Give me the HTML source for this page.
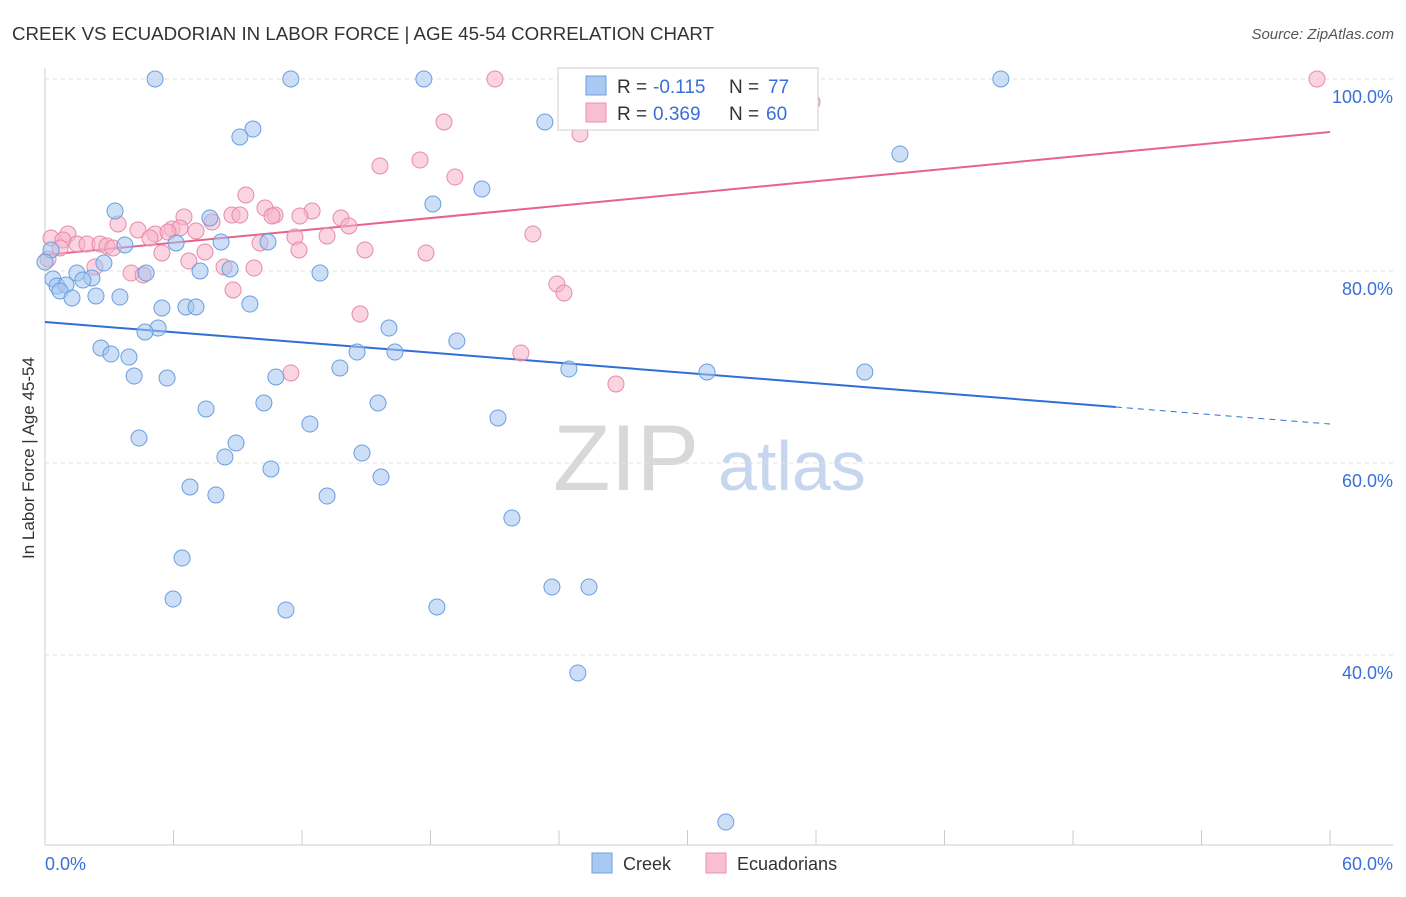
<!DOCTYPE html>
<html><head><meta charset="utf-8"><style>
body{margin:0;background:#fff;font-family:"Liberation Sans",sans-serif}
svg text{font-family:"Liberation Sans",sans-serif}
</style></head><body>
<svg id="chart" width="1406" height="892" xmlns="http://www.w3.org/2000/svg">
<text x="12" y="40" font-size="18.7" fill="#333">CREEK VS ECUADORIAN IN LABOR FORCE | AGE 45-54 CORRELATION CHART</text>
<text x="1394" y="39" font-size="15" fill="#555" text-anchor="end" font-style="italic">Source: ZipAtlas.com</text>
<text x="34" y="458" font-size="17" fill="#333" text-anchor="middle" transform="rotate(-90 34 458)">In Labor Force | Age 45-54</text>
<g><text x="553" y="490" font-size="94" fill="#d8d8d8" font-family="Liberation Serif">ZIP</text><text x="718" y="490" font-size="70" fill="#c6d6ee">atlas</text></g>
<g id="grid"></g><g id="axes"></g><g id="trend"></g><g id="pts"></g>
<g>
<rect x="558" y="68" width="260" height="62" fill="#fff" stroke="#ccc"/>
<rect x="586" y="76" width="20" height="19" fill="#a9c8f2" stroke="#6e9fdf"/>
<rect x="586" y="103" width="20" height="19" fill="#f7bfd0" stroke="#ea90ad"/>
<text x="617" y="93" font-size="19" fill="#333">R =</text><text x="653" y="93" font-size="19" fill="#3a6fd8">-0.115</text>
<text x="729" y="93" font-size="19" fill="#333">N =</text><text x="768" y="93" font-size="19" fill="#3a6fd8">77</text>
<text x="617" y="120" font-size="19" fill="#333">R =</text><text x="653" y="120" font-size="19" fill="#3a6fd8">0.369</text>
<text x="729" y="120" font-size="19" fill="#333">N =</text><text x="766" y="120" font-size="19" fill="#3a6fd8">60</text>
</g>
<g>
<rect x="592" y="853" width="20" height="20" fill="#a9c8f2" stroke="#6e9fdf"/><text x="623" y="870" font-size="18" fill="#333">Creek</text>
<rect x="706" y="853" width="20" height="20" fill="#f7bfd0" stroke="#ea90ad"/><text x="737" y="870" font-size="18" fill="#333">Ecuadorians</text>
</g>
</svg>
<script>
const creekX=[5.14,11.48,17.69,27.26,44.63,23.34,9.71,9.10,39.92,20.40,18.11,3.27,7.70,6.12,8.22,10.41,3.73,0.28,0.0,2.75,4.72,8.64,7.24,12.84,1.49,2.19,1.77,0.37,0.56,0.98,0.70,1.26,2.38,3.50,9.57,5.46,6.58,7.05,16.06,5.28,4.67,19.23,2.61,3.08,3.92,14.57,16.34,13.77,24.46,30.91,38.28,4.16,5.70,10.78,7.52,10.22,15.55,12.37,21.15,4.39,8.92,8.40,14.80,10.55,15.69,6.77,7.98,13.17,21.80,6.40,23.67,25.40,5.98,11.25,18.30,24.88,31.79];
const creekY=[100,100,100,100,100,95.52,94.79,93.96,92.19,88.54,86.98,86.25,85.52,82.92,83.02,83.02,82.71,82.19,80.94,80.83,79.79,80.21,80.0,79.79,79.79,79.27,79.06,79.17,78.44,78.54,77.92,77.19,77.40,77.29,76.56,76.15,76.25,76.25,74.06,74.06,73.65,72.71,71.98,71.35,71.04,71.56,71.56,69.90,69.79,69.48,69.48,69.06,68.85,68.96,65.63,66.25,66.25,64.06,64.69,62.60,62.08,60.63,61.04,59.38,58.54,57.50,56.67,56.56,54.27,50.10,47.08,47.08,45.83,44.69,45.0,38.13,22.6];
const ecuX=[21.01,59.39,35.81,18.63,24.98,17.51,15.64,19.14,9.38,10.27,8.73,9.10,10.74,6.49,12.47,13.82,3.41,7.80,4.34,5.93,7.05,14.19,22.78,5.14,1.07,0.28,0.84,1.49,1.96,2.57,2.89,3.17,11.67,13.17,10.04,11.86,14.94,17.79,5.46,7.47,6.72,8.36,9.76,2.33,4.02,4.58,23.90,24.23,8.78,14.71,22.22,11.48,26.66,11.90,10.60,0.14,0.70,6.30,5.74,4.90];
const ecuY=[100,100,97.60,95.52,94.27,91.56,90.94,89.79,87.92,86.56,85.83,85.83,85.83,85.63,86.25,85.52,84.90,85.10,84.27,84.38,84.17,84.69,83.85,83.85,83.85,83.44,83.23,82.81,82.81,82.81,82.60,82.40,83.54,83.65,82.92,82.19,82.19,81.88,81.88,81.98,81.04,80.42,80.31,80.42,79.79,79.58,78.65,77.71,78.02,75.52,71.46,69.38,68.23,85.73,85.73,81.25,82.40,84.48,84.06,83.44];
const creekTrend=[74.69,64.06];
const ecuTrend=[81.67,94.48];
const yTicks=[100,80,60,40];
const xTickLabels=["0.0%","60.0%"];
const NS="http://www.w3.org/2000/svg";
const sx=v=>45+v*21.417, sy=v=>79+(100-v)*9.6;
function mk(tag,attrs,parent){const e=document.createElementNS(NS,tag);for(const k in attrs)e.setAttribute(k,attrs[k]);parent.appendChild(e);return e;}
const grid=document.getElementById('grid'),axes=document.getElementById('axes'),trend=document.getElementById('trend'),pts=document.getElementById('pts');
yTicks.forEach(t=>{
 const l=mk('line',{x1:45,x2:1393,y1:sy(t),y2:sy(t),stroke:'#e2e2e2','stroke-dasharray':'4,4'},grid);
 
 
 const tx=mk('text',{x:1393,y:sy(t)+24,'font-size':18,fill:'#3a6fd8','text-anchor':'end'},axes);
 tx.textContent=t.toFixed(1)+'%';
 
 
});
const ax=mk('line',{x1:45,x2:45,y1:68,y2:845,stroke:'#ccc'},axes);


const bx=mk('line',{x1:45,x2:1393,y1:845,y2:845,stroke:'#ccc'},axes);


for(let i=0;i<=10;i++){const tk=mk('line',{x1:sx(i*6),x2:sx(i*6),y1:830,y2:845,stroke:'#ccc'},axes);
 
 }
[[0,'start',45],[60,'end',1393]].forEach((d,i)=>{const t=mk('text',{x:d[2],y:870,'font-size':18,fill:'#3a6fd8','text-anchor':d[1]},axes);t.textContent=xTickLabels[i];
 
 });
function pointsOf(xs,ys,fill,stroke,name){xs.forEach((x,i)=>{const c=mk('circle',{cx:sx(x),cy:sy(ys[i]),r:8,fill:fill,'fill-opacity':0.55,stroke:stroke,'stroke-width':1},pts);
 
 });}
pointsOf(ecuX,ecuY,'#f5b3c8','#e88aa8','ecuadorian-point');
pointsOf(creekX,creekY,'#a3c4ef','#6a9fe0','creek-point');
const cy=x=>creekTrend[0]+(creekTrend[1]-creekTrend[0])*x/60;
const l1=mk('line',{x1:sx(0),y1:sy(cy(0)),x2:sx(50),y2:sy(cy(50)),stroke:'#2f6fd6','stroke-width':2},trend);


const l2=mk('line',{x1:sx(50),y1:sy(cy(50)),x2:sx(60),y2:sy(cy(60)),stroke:'#2f6fd6','stroke-width':1,'stroke-dasharray':'6,5'},trend);


const l3=mk('line',{x1:sx(0),y1:sy(ecuTrend[0]),x2:sx(60),y2:sy(ecuTrend[1]),stroke:'#e8628e','stroke-width':2},trend);


</script>
</body></html>
